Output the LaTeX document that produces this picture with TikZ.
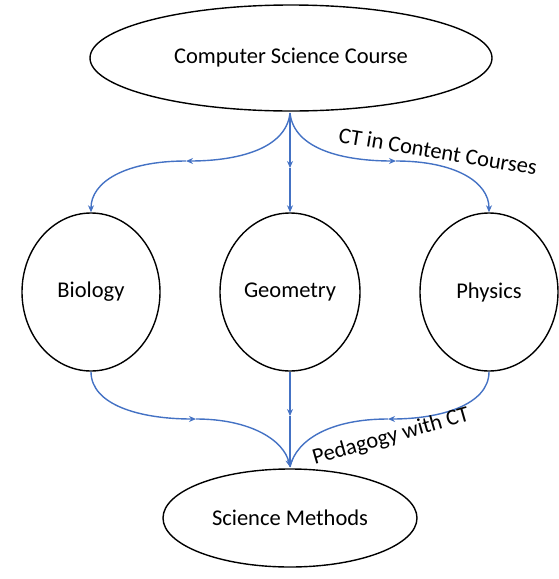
\documentclass[tikz,border=0pt]{standalone}
\usepackage{fontspec}
\setmainfont{Carlito}
\usetikzlibrary{arrows.meta,shapes.geometric}
\definecolor{lineblue}{HTML}{4472C4}
\begin{document}
\begin{tikzpicture}[x=1pt,y=-1pt,
  nodebox/.style={draw=black, line width=1.4pt, fill=white, ellipse, inner sep=0pt, font=\fontsize{22.5}{24}\selectfont},
  link/.style={draw=lineblue, line width=1.4pt},
  tip/.style={-{Stealth[length=7pt,width=6pt]}},
  lbl/.style={font=\fontsize{22.5}{24}\selectfont, inner sep=0pt}
]
\useasboundingbox (0,0) rectangle (559,579);
\node[nodebox, minimum width=402pt, minimum height=106pt] (cs) at (291,58) {Computer Science Course};
\node[nodebox, minimum width=138pt, minimum height=158pt] (bio) at (91,292) {Biology};
\node[nodebox, minimum width=140pt, minimum height=158pt] (geo) at (290,292) {Geometry};
\node[nodebox, minimum width=138pt, minimum height=158pt] (phy) at (489,292) {Physics};
\node[nodebox, minimum width=254pt, minimum height=98pt] (sm) at (290,518) {Science Methods};
\coordinate (top) at (290,113);
\coordinate (bot) at (290,467);
\coordinate (tl) at (186,161);
\coordinate (tr) at (396,161);
\coordinate (gm) at (290,168);
\coordinate (bl) at (196,419);
\coordinate (br) at (388,419);
\coordinate (bm) at (290,416);
% top links
\draw[link, tip] (top) .. controls (286,150) and (235,161) .. (tl);
\draw[link, tip] (tl) .. controls (125,161) and (91,182) .. (bio.north);
\draw[link, tip] (top) -- (gm);
\draw[link, tip] (gm) -- (geo.north);
\draw[link, tip] (top) .. controls (294,150) and (345,161) .. (tr);
\draw[link, tip] (tr) .. controls (455,161) and (489,182) .. (phy.north);
% bottom links
\draw[link, tip] (bio.south) .. controls (91,405) and (140,419) .. (bl);
\draw[link, tip] (bl) .. controls (250,419) and (284,440) .. (bot);
\draw[link, tip] (geo.south) -- (bm);
\draw[link, tip] (bm) -- (bot);
\draw[link, tip] (phy.south) .. controls (489,405) and (440,419) .. (br);
\draw[link] (br) .. controls (330,419) and (296,440) .. (bot);
\node[lbl, rotate=-9.5] (ctc) at (438,151) {CT in Content Courses};
\node[lbl, rotate=16] (ped) at (391,437) {Pedagogy with CT};
\end{tikzpicture}
\end{document}
